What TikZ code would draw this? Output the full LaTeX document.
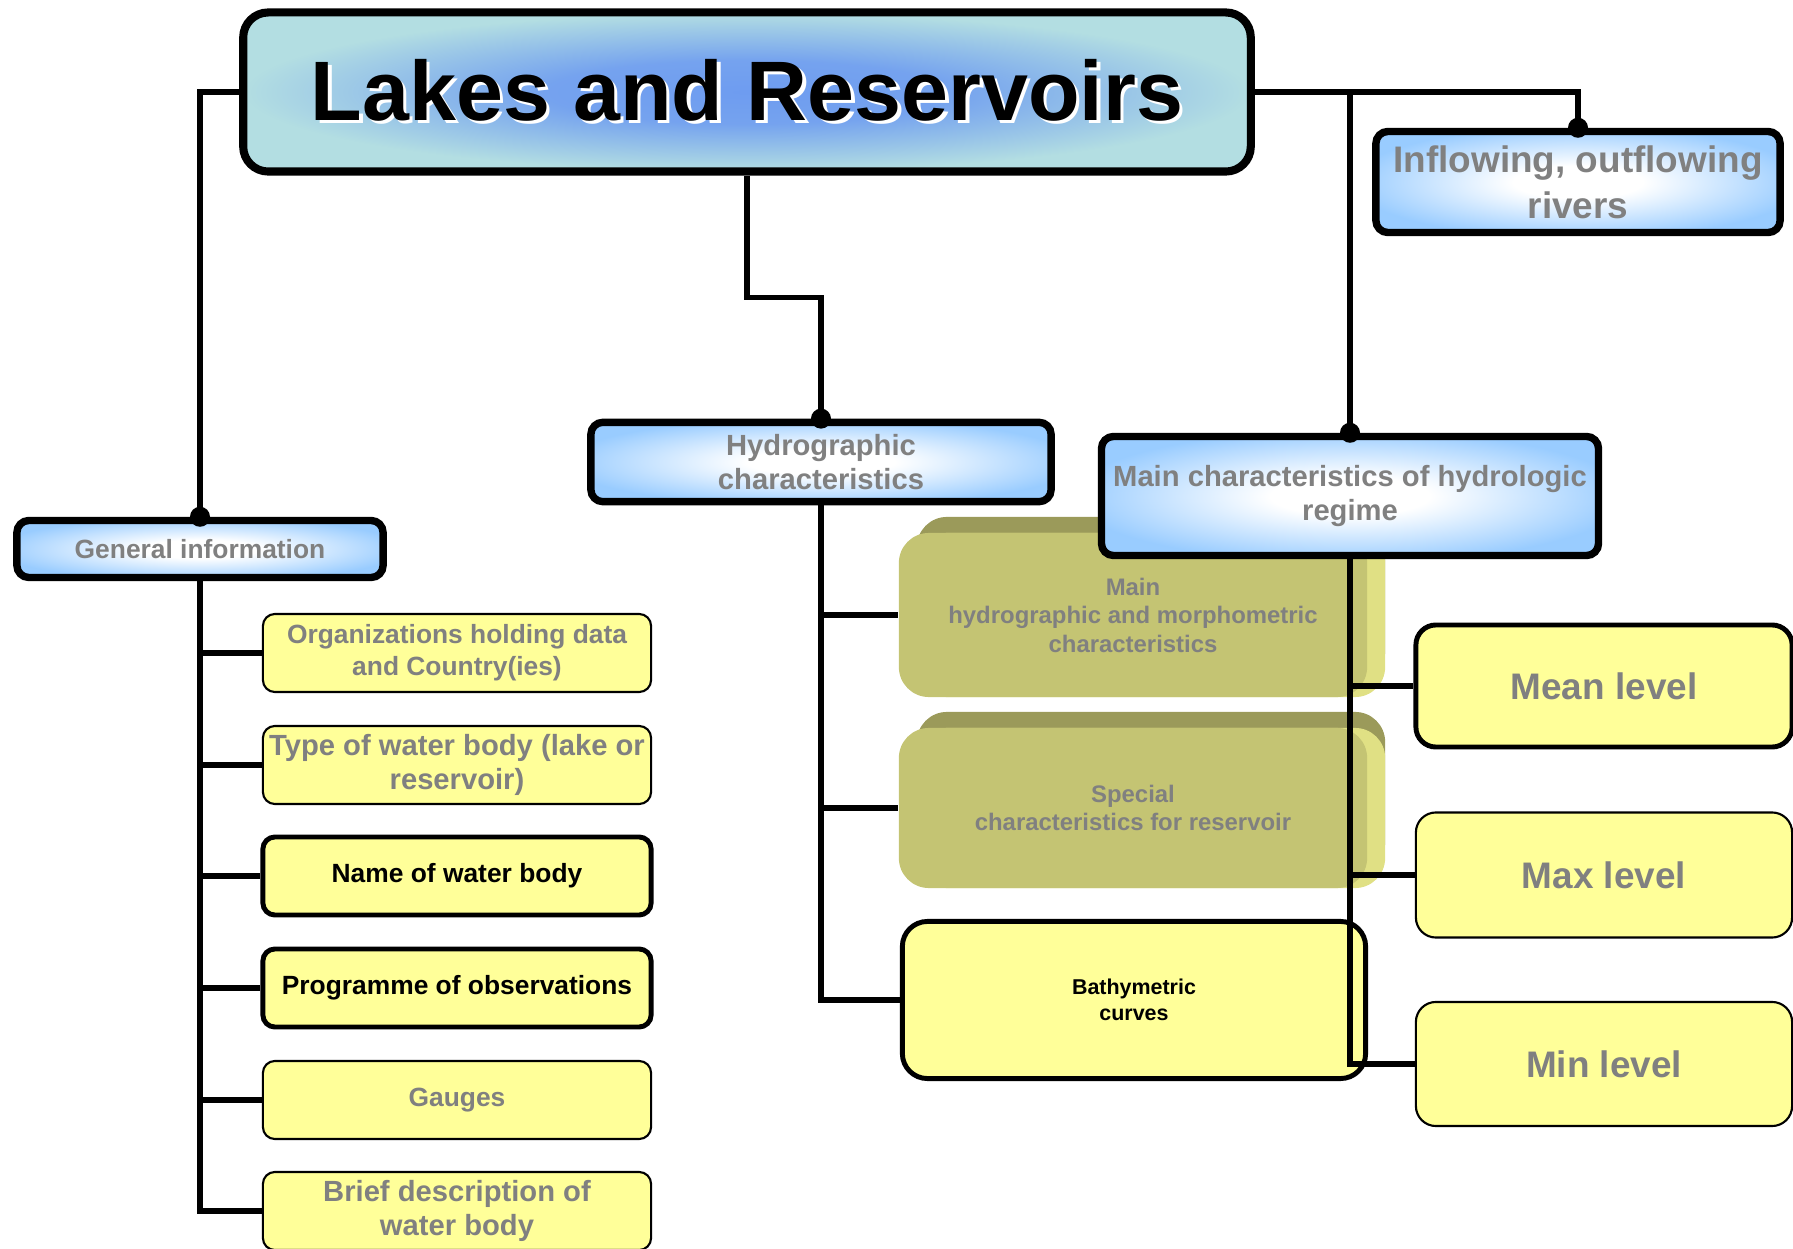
\documentclass[tikz,border=0pt]{standalone}
\usepackage{fontspec}
\setmainfont{Liberation Sans}
\usetikzlibrary{shadows}

\definecolor{titleouter}{HTML}{B3DEE2}
\definecolor{titleinner}{HTML}{6E9CF0}
\definecolor{boxblue}{HTML}{99CCFF}
\definecolor{boxyellow}{HTML}{FFFF99}
\definecolor{olivefront}{HTML}{C4C473}
\definecolor{olivetop}{HTML}{9B9A5A}
\definecolor{oliveside}{HTML}{E0E084}
\definecolor{labelgray}{HTML}{808080}

\pgfdeclareradialshading{titleglow}{\pgfpoint{0bp}{0bp}}{color(0bp)=(titleinner); color(10bp)=(titleinner!90!titleouter); color(25bp)=(titleouter); color(50bp)=(titleouter)}
\pgfdeclareradialshading{boxglow}{\pgfpoint{0bp}{0bp}}{color(0bp)=(white); color(8bp)=(white); color(28bp)=(boxblue); color(50bp)=(boxblue)}

\newcommand{\liftedtext}[1]{\rlap{\hspace{1pt}\raisebox{-1pt}{\color{white}#1}}#1}

\tikzset{
  conn/.style={line width=1.6pt},
  headbox/.style={draw, line width=2.3pt, rounded corners=0.25cm, shade, shading=titleglow,
    font=\bfseries\fontsize{24}{28}\selectfont},
  bluebox/.style={draw, line width=2.1pt, rounded corners=0.12cm, shade, shading=boxglow,
    text=labelgray, align=center, font=\bfseries\fontsize{8.3}{9.8}\selectfont},
  itembox/.style={draw, line width=0.6pt, rounded corners=0.12cm, fill=boxyellow, text=labelgray,
    align=center, inner sep=1pt, minimum width=3.88cm, minimum height=0.78cm,
    font=\bfseries\fontsize{7.5}{9.1}\selectfont},
  keyitem/.style={itembox, line width=1.4pt, text=black},
  olivebox/.style={fill=olivefront, rounded corners=0.3cm, text=labelgray, align=center,
    general shadow={fill=olivetop, shadow xshift=0.18cm, shadow yshift=0.16cm},
    general shadow={fill=oliveside, shadow xshift=0.18cm, shadow yshift=0cm},
    minimum width=4.68cm, font=\bfseries\fontsize{6.8}{8.1}\selectfont},
  levelbox/.style={draw, line width=0.6pt, rounded corners=0.2cm, fill=boxyellow, text=labelgray,
    minimum width=3.76cm, font=\bfseries\fontsize{10.5}{12}\selectfont},
}

\begin{document}
\begin{tikzpicture}[x=0.01cm, y=-0.01cm]
  \useasboundingbox (0,0) rectangle (1793,1249);
  \clip (0,0) rectangle (1793,1249);
  % headings
  \node[headbox, minimum width=10.07cm, minimum height=1.59cm] (title) at (747,92) {\liftedtext{Lakes and Reservoirs}};
  \node[bluebox, minimum width=4.04cm, minimum height=1.01cm, font=\bfseries\fontsize{10.5}{13}\selectfont] (rivers) at (1578,182) {Inflowing, outflowing\\rivers};
  \node[bluebox, minimum width=3.66cm, minimum height=0.57cm, font=\bfseries\fontsize{7.5}{9}\selectfont] (general) at (200,549) {General information};
  \node[bluebox, minimum width=4.6cm, minimum height=0.77cm] (hydro) at (821,462) {Hydrographic\\characteristics};
  % general information items
  \node[itembox] (org) at (457,653) {Organizations holding data\\and Country(ies)};
  \node[itembox, font=\bfseries\fontsize{8.3}{9.6}\selectfont] (type) at (457,765) {Type of water body (lake or\\reservoir)};
  \node[keyitem] (wname) at (457,876) {Name of water body};
  \node[keyitem] (prog) at (457,988) {Programme of observations};
  \node[itembox] (gauges) at (457,1100) {Gauges};
  \node[itembox, font=\bfseries\fontsize{8.3}{9.6}\selectfont] (brief) at (457,1211) {Brief description of\\water body};
  % hydrographic items
  \node[olivebox, minimum height=1.64cm] (morpho) at (1133,615) {Main\\hydrographic and morphometric\\characteristics};
  \node[olivebox, minimum height=1.6cm] (special) at (1133,808) {Special\\characteristics for reservoir};
  \node[keyitem, rounded corners=0.25cm, minimum width=4.63cm, minimum height=1.57cm, font=\bfseries\fontsize{6.1}{7.5}\selectfont] (bathy) at (1134,1000) {Bathymetric\\curves};
  % hydrologic regime
  \node[bluebox, minimum width=4.9cm, minimum height=1.19cm] (regime) at (1350,496) {Main characteristics of hydrologic\\regime};
  \node[levelbox, line width=1.4pt, minimum height=1.22cm] (meanlvl) at (1604,686) {Mean level};
  \node[levelbox, minimum height=1.25cm] (maxlvl) at (1604,875) {Max level};
  \node[levelbox, minimum height=1.24cm] (minlvl) at (1604,1064) {Min level};
  % trunk from the title
  \draw[conn] (title.west) -| (general.north);
  \draw[conn] (title.east) -| (rivers.north);
  \draw[conn] (title.east -| regime.north) -- (regime.north);
  \draw[conn] (title.south) -- ++(0,122) -| (hydro.north);
  \foreach \n in {general,rivers,hydro,regime}
    \fill (\n.north) circle (0.1cm);
  % branches
  \draw[conn] (general.south) |- (brief.west);
  \foreach \n in {org,type,wname,prog,gauges}
    \draw[conn] (general.south |- \n.west) -- (\n.west);
  \draw[conn] (hydro.south) |- (bathy.west);
  \foreach \n in {morpho,special}
    \draw[conn] (hydro.south |- \n.west) -- (\n.west);
  \draw[conn] (regime.south) |- (minlvl.west);
  \foreach \n in {meanlvl,maxlvl}
    \draw[conn] (regime.south |- \n.west) -- (\n.west);
\end{tikzpicture}
\end{document}
